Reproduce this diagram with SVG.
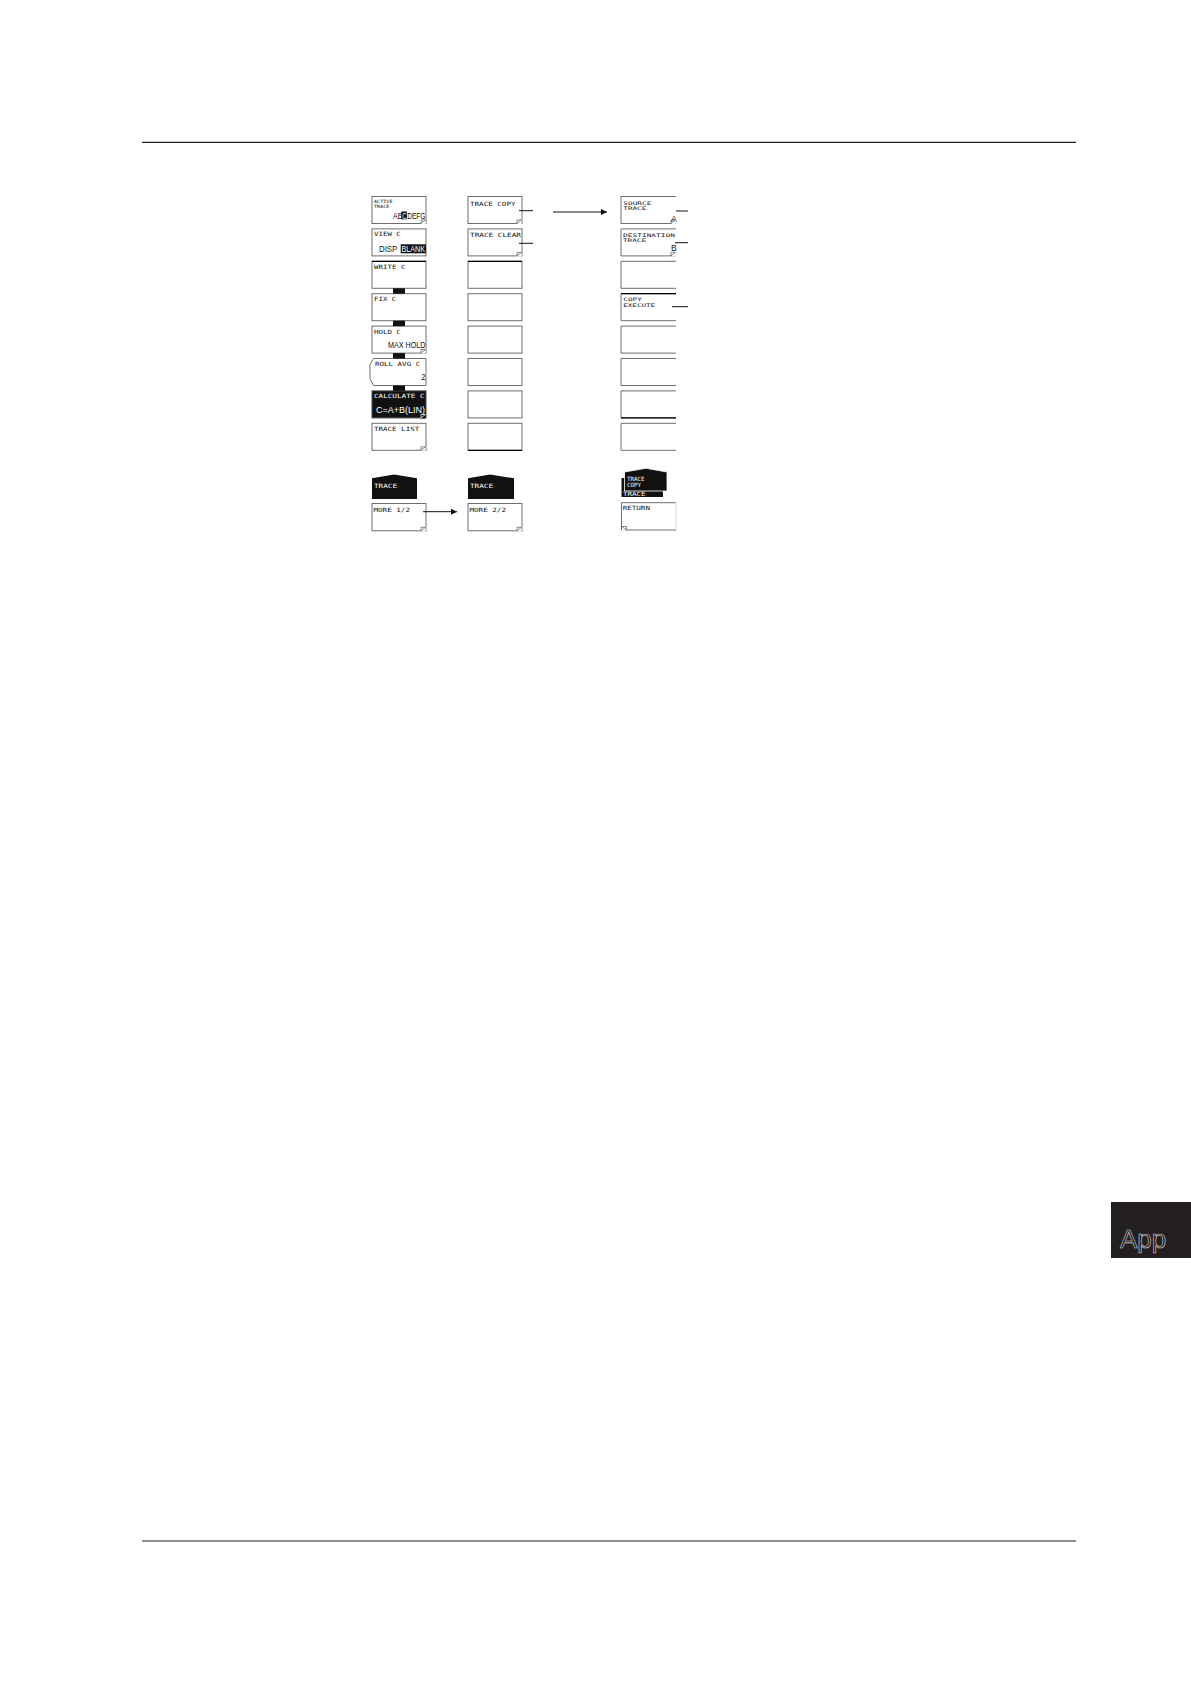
<svg xmlns="http://www.w3.org/2000/svg" width="1191" height="1684" viewBox="0 0 1191 1684">
<style>
.bg{fill:#fff}
.btn{fill:#fff;stroke:#6e6e6e;stroke-width:1}
.inv{fill:#111;stroke:#444;stroke-width:1}
.tab{fill:#111}
.s{font-family:"DejaVu Sans Mono",monospace;font-size:5.8px;fill:#111}
.t{font-family:"DejaVu Sans Mono",monospace;font-size:4.4px;fill:#111}
.u{font-family:"DejaVu Sans Mono",monospace;font-size:4.8px;fill:#111}
.b{font-family:"Liberation Sans",Arial,sans-serif;font-size:8.5px;fill:#111}
.w{fill:#fff}
.rule{stroke:#231f20;stroke-width:1.2}
.lead{stroke:#111;stroke-width:1;fill:none}
.fold{fill:none;stroke:#555;stroke-width:0.7}
.dark{stroke:#000;stroke-width:1.2}
</style>
<defs>
<marker id="ah" viewBox="0 0 10 10" refX="10" refY="5" markerWidth="9" markerHeight="6" markerUnits="userSpaceOnUse" orient="auto">
<path d="M0,0 L10,5 L0,10 Z" fill="#111"/>
</marker>
<g id="fd"><path d="M-0.5,-4.5 L-0.5,0.5 L-5.5,0.5 Z" fill="#fff"/><path class="fold" d="M-5,0 L-5,-3.5 L-0.5,-3.5 Z"/></g>
<g id="fdw"><path d="M-0.5,-4.5 L-0.5,0.5 L-5.5,0.5 Z" fill="#111"/><path d="M-5,0 L-5,-3.5 L-0.5,-3.5 Z" fill="none" stroke="#fff" stroke-width="0.7"/></g>
</defs>
<rect class="bg" width="1191" height="1684"/>

<g id="page">
<line class="rule" x1="142" y1="142.3" x2="1076" y2="142.3"/>
<line class="rule" x1="142" y1="1541" x2="1076" y2="1541"/>
<rect x="1111" y="1202" width="80" height="56" fill="#231f20"/>
<text x="1120" y="1248" font-family="Liberation Sans,Arial,sans-serif" font-size="26" fill="#231f20" stroke="#d8d8d8" stroke-width="0.6">App</text>
</g>

<!-- Column 1 -->
<g id="active-trace">
<rect class="btn" x="372" y="196.5" width="54" height="27"/>
<text class="t" x="374" y="203.3" textLength="18.5" lengthAdjust="spacingAndGlyphs">ACTIVE</text>
<text class="t" x="374" y="207.6" textLength="15.3" lengthAdjust="spacingAndGlyphs">TRACE</text>
<text class="b" x="393" y="218.5" textLength="9.3" lengthAdjust="spacingAndGlyphs">AB</text>
<rect x="401.3" y="211.5" width="5.6" height="7.8" fill="#111"/>
<text class="b w" x="402.2" y="218.5" textLength="4.2" lengthAdjust="spacingAndGlyphs">C</text>
<text class="b" x="407.2" y="218.5" textLength="18.3" lengthAdjust="spacingAndGlyphs">DEFG</text>
<use href="#fd" x="426" y="223.5"/>
</g>
<g id="view-c">
<rect class="btn" x="372" y="228.9" width="54" height="27"/>
<text class="s" x="374" y="236" textLength="26.8" lengthAdjust="spacingAndGlyphs">VIEW C</text>
<text class="b" x="379" y="252" textLength="18.3" lengthAdjust="spacingAndGlyphs">DISP</text>
<rect x="400.7" y="244.3" width="25.3" height="9" fill="#111"/>
<text class="b w" x="401.5" y="252" textLength="23.5" lengthAdjust="spacingAndGlyphs">BLANK</text>
</g>
<g id="write-c">
<rect class="btn" x="372" y="261.3" width="54" height="27"/>
<line class="dark" x1="372" y1="261.3" x2="426" y2="261.3"/>
<text class="s" x="374" y="268.6" textLength="31.4" lengthAdjust="spacingAndGlyphs">WRITE C</text>
</g>
<g id="fix-c">
<rect class="btn" x="372" y="293.7" width="54" height="27"/>
<text class="s" x="374" y="301" textLength="22.2" lengthAdjust="spacingAndGlyphs">FIX C</text>
</g>
<g id="hold-c">
<rect class="btn" x="372" y="326.1" width="54" height="27"/>
<text class="s" x="374" y="333.6" textLength="26.8" lengthAdjust="spacingAndGlyphs">HOLD C</text>
<text class="b" x="388" y="348" textLength="37.5" lengthAdjust="spacingAndGlyphs">MAX HOLD</text>
<use href="#fd" x="426" y="353.1"/>
</g>
<g id="roll-avg-c">
<path class="btn" d="M426,358.5 H373.5 L370,364.5 V378.5 L373.5,385.5 H426 Z"/>
<text class="s" x="375" y="365.8" textLength="45.2" lengthAdjust="spacingAndGlyphs">ROLL AVG C</text>
<text class="b" x="421.2" y="380" textLength="4.2" lengthAdjust="spacingAndGlyphs">2</text>
</g>
<g id="calculate-c">
<rect class="inv" x="372" y="390.9" width="54" height="27"/>
<text class="s w" x="374" y="398.4" textLength="50.5" lengthAdjust="spacingAndGlyphs">CALCULATE C</text>
<text class="b w" x="376" y="412.7" textLength="49" lengthAdjust="spacingAndGlyphs">C=A+B(LIN)</text>
<use href="#fdw" x="426" y="417.9"/>
</g>
<g id="trace-list">
<rect class="btn" x="372" y="423.3" width="54" height="27"/>
<text class="s" x="374" y="430.9" textLength="45.2" lengthAdjust="spacingAndGlyphs">TRACE LIST</text>
<use href="#fd" x="426" y="450.3"/>
</g>
<g id="col1-links">
<rect x="393" y="288.3" width="12" height="5.4" fill="#111"/>
<rect x="393" y="320.7" width="12" height="5.4" fill="#111"/>
<rect x="393" y="353.1" width="12" height="5.4" fill="#111"/>
<rect x="393" y="385.5" width="12" height="5.4" fill="#111"/>
</g>
<g id="trace-tab-1">
<path class="tab" d="M372,499 V478.3 L394,474.5 L417,478.3 V499 Z"/>
<text class="s w" x="374" y="488" textLength="23" lengthAdjust="spacingAndGlyphs">TRACE</text>
</g>
<g id="more-1-2">
<rect class="btn" x="372" y="503.5" width="54" height="27.3"/>
<text class="s" x="373.5" y="512.3" textLength="36.5" lengthAdjust="spacingAndGlyphs">MORE 1/2</text>
<use href="#fd" x="426" y="530.8"/>
</g>

<!-- Column 2 -->
<g id="trace-copy">
<rect class="btn" x="468" y="196.5" width="54" height="27"/>
<text class="s" x="470" y="205.5" textLength="45.5" lengthAdjust="spacingAndGlyphs">TRACE COPY</text>
<use href="#fd" x="522" y="223.5"/>
</g>
<g id="trace-clear">
<rect class="btn" x="468" y="228.9" width="54" height="27"/>
<text class="s" x="470" y="237.4" textLength="51" lengthAdjust="spacingAndGlyphs">TRACE CLEAR</text>
<use href="#fd" x="522" y="255.9"/>
</g>
<g id="c2-r2"><rect class="btn" x="468" y="261.3" width="54" height="27"/><line class="dark" x1="468" y1="261.3" x2="522" y2="261.3"/></g>
<g id="c2-r3"><rect class="btn" x="468" y="293.7" width="54" height="27"/></g>
<g id="c2-r4"><rect class="btn" x="468" y="326.1" width="54" height="27"/></g>
<g id="c2-r5"><rect class="btn" x="468" y="358.5" width="54" height="27"/></g>
<g id="c2-r6"><rect class="btn" x="468" y="390.9" width="54" height="27"/></g>
<g id="c2-r7"><rect class="btn" x="468" y="423.3" width="54" height="27"/><line class="dark" x1="468" y1="450.3" x2="522" y2="450.3"/></g>
<g id="trace-tab-2">
<path class="tab" d="M468,499 V478.3 L490,474.5 L514,478.3 V499 Z"/>
<text class="s w" x="470" y="488" textLength="23" lengthAdjust="spacingAndGlyphs">TRACE</text>
</g>
<g id="more-2-2">
<rect class="btn" x="468" y="503.5" width="54" height="27.3"/>
<text class="s" x="469.5" y="512.3" textLength="36.5" lengthAdjust="spacingAndGlyphs">MORE 2/2</text>
<use href="#fd" x="522" y="530.8"/>
</g>

<!-- Column 3 -->
<g id="source-trace">
<path class="btn" d="M676,196.5 H621 V223.5 H676"/>
<text class="u" x="623.3" y="205" textLength="28" lengthAdjust="spacingAndGlyphs">SOURCE</text>
<text class="u" x="623.3" y="210" textLength="23" lengthAdjust="spacingAndGlyphs">TRACE</text>
<text class="b" x="671" y="221.5" font-size="7">A</text>
<use href="#fd" x="676" y="223.5"/>
</g>
<g id="destination-trace">
<path class="btn" d="M676,228.9 H621 V255.9 H676"/>
<text class="u" x="623" y="236.7" textLength="52" lengthAdjust="spacingAndGlyphs">DESTINATION</text>
<text class="u" x="623" y="242" textLength="23" lengthAdjust="spacingAndGlyphs">TRACE</text>
<text class="b" x="671" y="251" font-size="7">B</text>
<use href="#fd" x="676" y="255.9"/>
</g>
<g id="c3-r2"><path class="btn" d="M676,261.3 H621 V288.3 H676"/></g>
<g id="copy-execute">
<path class="btn" d="M676,293.7 H621 V320.7 H676"/>
<line class="dark" x1="621" y1="293.7" x2="676" y2="293.7"/>
<text class="u" x="623.3" y="300.7" textLength="18.5" lengthAdjust="spacingAndGlyphs">COPY</text>
<text class="u" x="623.3" y="307.3" textLength="31.7" lengthAdjust="spacingAndGlyphs">EXECUTE</text>
</g>
<g id="c3-r4"><path class="btn" d="M676,326.1 H621 V353.1 H676"/></g>
<g id="c3-r5"><path class="btn" d="M676,358.5 H621 V385.5 H676"/></g>
<g id="c3-r6"><path class="btn" d="M676,390.9 H621 V417.9 H676"/><line class="dark" x1="621" y1="417.9" x2="676" y2="417.9"/></g>
<g id="c3-r7"><path class="btn" d="M676,423.3 H621 V450.3 H676"/></g>
<g id="trace-copy-tab">
<rect class="tab" x="621.5" y="478" width="41.5" height="19"/>
<path class="tab" d="M624.5,491 V472 L646,468.3 L667,472 V491 Z" stroke="#fff" stroke-width="0.8"/>
<text class="s w" x="627" y="480.5" textLength="17.6" lengthAdjust="spacingAndGlyphs">TRACE</text>
<text class="s w" x="627" y="487" textLength="14" lengthAdjust="spacingAndGlyphs">COPY</text>
<text class="s w" x="623" y="496" textLength="22.5" lengthAdjust="spacingAndGlyphs">TRACE</text>
</g>
<g id="return">
<path class="btn" d="M676,502.7 H621.5 V530 H676"/>
<line x1="676" y1="502.7" x2="676" y2="530" stroke="#ccc" stroke-width="0.8"/>
<text class="s" x="622.7" y="509.5" textLength="27.3" lengthAdjust="spacingAndGlyphs">RETURN</text>
<g transform="translate(621.5,530) scale(-1,1)"><use href="#fd"/></g>
</g>

<!-- Connectors -->
<g id="connectors">
<line class="lead" x1="519" y1="210.7" x2="533" y2="210.7"/>
<line class="lead" x1="519" y1="243.3" x2="533" y2="243.3"/>
<line class="lead" x1="553" y1="212" x2="607" y2="212" marker-end="url(#ah)"/>
<line class="lead" x1="676" y1="211" x2="688" y2="211"/>
<line class="lead" x1="675" y1="242.7" x2="688" y2="242.7"/>
<line class="lead" x1="672" y1="306.7" x2="688" y2="306.7"/>
<line class="lead" x1="423" y1="511.7" x2="457" y2="511.7" marker-end="url(#ah)"/>
</g>
</svg>
